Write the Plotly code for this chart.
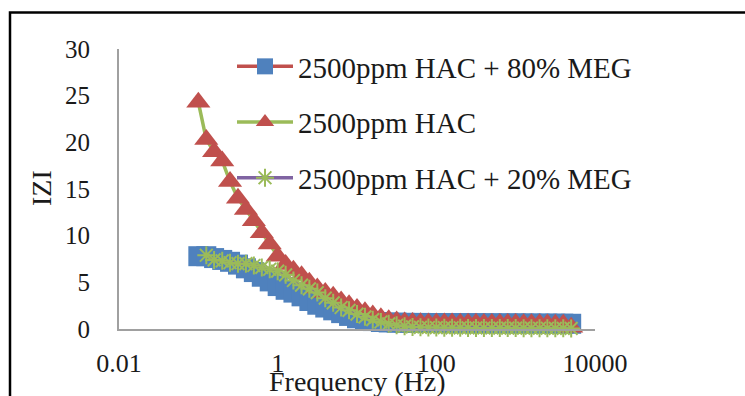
import plotly.graph_objects as go

# Frequencies (Hz), 10 points per decade
FREQ_HZ = [0.1, 0.126, 0.158, 0.2, 0.251, 0.316, 0.398, 0.501, 0.631, 0.794,
           1, 1.26, 1.58, 2, 2.51, 3.16, 3.98, 5.01, 6.31, 7.94,
           10, 12.6, 15.8, 20, 25.1, 31.6, 39.8, 50.1, 63.1, 79.4,
           100, 126, 158, 200, 251, 316, 398, 501, 631, 794,
           1000, 1260, 1580, 2000, 2510, 3160, 3980, 5010]

# |Z| values per series
Z_HAC_80MEG = [7.8, 7.8, 7.6, 7.4, 7.2, 6.9, 6.5, 6.1, 5.6, 5.1,
               4.6, 4.2, 3.9, 3.5, 3.0, 2.6, 2.3, 2.0, 1.7, 1.4,
               1.15, 0.95, 0.85, 0.75, 0.7, 0.68, 0.66, 0.65, 0.65, 0.64,
               0.64, 0.63, 0.63, 0.62, 0.62, 0.62, 0.61, 0.61, 0.6, 0.6,
               0.6, 0.59, 0.59, 0.58, 0.58, 0.57, 0.57, 0.56]

Z_HAC = [24.3, 20.3, 19.0, 18.0, 15.8, 14.0, 12.8, 11.6, 10.3, 9.1,
         7.8, 6.9, 6.3, 5.7, 5.0, 4.4, 3.9, 3.5, 3.0, 2.6,
         2.2, 1.85, 1.5, 1.2, 1.0, 0.85, 0.75, 0.7, 0.66, 0.65,
         0.64, 0.64, 0.63, 0.62, 0.62, 0.61, 0.6, 0.6, 0.59, 0.58,
         0.58, 0.57, 0.56, 0.55, 0.54, 0.52, 0.5, 0.2]

# 20% MEG series starts at the second frequency
Z_HAC_20MEG = [7.9, 7.4, 7.3, 7.1, 7.0, 7.0, 6.8, 6.6, 6.4,
               6.2, 5.8, 5.2, 4.7, 4.3, 3.9, 3.3, 2.8, 2.3, 2.0,
               1.6, 1.3, 1.0, 0.75, 0.55, 0.4, 0.3, 0.22, 0.18, 0.16,
               0.15, 0.14, 0.13, 0.13, 0.12, 0.12, 0.11, 0.11, 0.1, 0.1,
               0.1, 0.09, 0.09, 0.08, 0.08, 0.07, 0.07, 0.06]

NAMES = ["2500ppm HAC + 80% MEG", "2500ppm HAC", "2500ppm HAC + 20% MEG"]
X_TICKS = [0.01, 1, 100, 10000]
X_TICK_TEXT = ["0.01", "1", "100", "10000"]

FONT = "Liberation Serif"
BLUE = "#4F81BD"
RED = "#C0504D"
GREEN = "#9BBB59"
PURPLE = "#8064A2"
TEXT = "#1a1a1a"

fig = go.Figure()
fig.add_trace(go.Scatter(
    x=FREQ_HZ, y=Z_HAC_80MEG, name=NAMES[0], legendgroup="a",
    mode="lines+markers", cliponaxis=False,
    line=dict(color=RED, width=3.5),
    marker=dict(symbol="square", size=20, color=BLUE, line=dict(width=0)),
))
fig.add_trace(go.Scatter(
    x=FREQ_HZ, y=Z_HAC, name=NAMES[1], legendgroup="b",
    mode="lines+markers", cliponaxis=False,
    line=dict(color=GREEN, width=3.5),
    marker=dict(symbol="triangle-up", size=21, color=RED, line=dict(width=0)),
))
fig.add_trace(go.Scatter(
    x=FREQ_HZ[1:], y=Z_HAC_20MEG, name=NAMES[2], legendgroup="c",
    mode="lines+markers", cliponaxis=False,
    line=dict(color=PURPLE, width=3.5),
    marker=dict(symbol="asterisk-open", size=15, color=GREEN,
                line=dict(color=GREEN, width=2)),
))

L, R, T, B = 119, 150, 49, 67
W, H = 745, 396
pw, ph = W - L - R, H - T - B

def px_x(p):
    return (p - L) / pw

def px_y(p):
    return (H - B - p) / ph

fig.update_layout(
    width=W, height=H,
    margin=dict(l=L, r=R, t=T, b=B),
    paper_bgcolor="white", plot_bgcolor="white",
    font=dict(family=FONT, color="#000000"),
    showlegend=True,
    legend=dict(
        x=px_x(232), y=px_y(41), xanchor="left", yanchor="top",
        font=dict(family=FONT, size=29, color=TEXT),
        itemwidth=56, tracegroupgap=15, bgcolor="rgba(0,0,0,0)",
        traceorder="grouped",
    ),
    xaxis=dict(
        type="log", range=[-2, 4], tickvals=X_TICKS, ticktext=X_TICK_TEXT,
        showline=True, linecolor="#a0a0a0", linewidth=2,
        showgrid=False, zeroline=False, ticks="",
        tickfont=dict(family=FONT, size=26, color=TEXT),
        ticklabelstandoff=10,
    ),
    yaxis=dict(
        range=[0, 30], dtick=5, tick0=0,
        showline=True, linecolor="#a0a0a0", linewidth=2,
        showgrid=False, zeroline=False, ticks="",
        tickfont=dict(family=FONT, size=25, color=TEXT),
        ticklabelstandoff=22,
    ),
    annotations=[
        dict(text="Frequency (Hz)", xref="paper", yref="paper",
             x=px_x(357), y=px_y(381), xanchor="center", yanchor="middle",
             showarrow=False, font=dict(family=FONT, size=28, color=TEXT)),
        dict(text="IZI", xref="paper", yref="paper",
             x=px_x(41), y=px_y(188), xanchor="center", yanchor="middle",
             textangle=-90, showarrow=False,
             font=dict(family=FONT, size=28, color=TEXT)),
    ],
    shapes=[
        dict(type="rect", xref="paper", yref="paper",
             x0=px_x(10), x1=px_x(800), y0=px_y(450), y1=px_y(12.5),
             line=dict(color="black", width=2.5), fillcolor="rgba(0,0,0,0)",
             layer="above"),
    ],
)

fig.write_html("out.html")
